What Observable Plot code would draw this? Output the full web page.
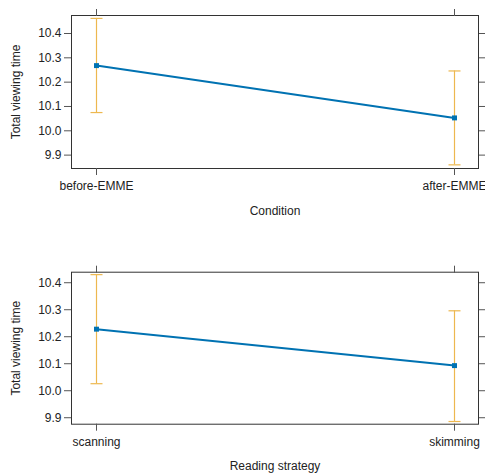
<!DOCTYPE html>
<html>
<head>
<meta charset="utf-8">
<script src="https://cdn.jsdelivr.net/npm/d3@7"></script>
<script src="https://cdn.jsdelivr.net/npm/@observablehq/plot@0.6"></script>
<style>
  body { margin: 0; background: #fff; }
  #chart { width: 485px; }
  #chart svg { display: block; overflow: visible; }
</style>
</head>
<body>
<div id="chart"></div>
<script>
// Panel 1: Condition
const conditionLevels = ["before-EMME", "after-EMME"];
const conditionFit = [10.268, 10.053];
const conditionLower = [10.075, 9.860];
const conditionUpper = [10.462, 10.246];

// Panel 2: Reading strategy
const strategyLevels = ["scanning", "skimming"];
const strategyFit = [10.228, 10.093];
const strategyLower = [10.026, 9.886];
const strategyUpper = [10.430, 10.296];

const yTicks = [9.9, 10.0, 10.1, 10.2, 10.3, 10.4];
const yLabel = "Total viewing time";

const BLUE = "#0072B2";
const ORANGE = "#EDB84F";
const INK = "#222";
const FONT = "Liberation Sans, Arial, sans-serif";

// horizontal cap symbol for error bars
const capSymbol = {draw(ctx) { ctx.moveTo(-6, 0); ctx.lineTo(6, 0); }};

function panel({levels, fit, lower, upper, xLabel, yDomain, marginTop, marginBottom, height}) {
  const data = levels.map((c, i) => ({c, fit: fit[i], lo: lower[i], hi: upper[i]}));
  return Plot.plot({
    width: 485,
    height,
    marginLeft: 71,
    marginRight: 7,
    marginTop,
    marginBottom,
    style: {fontFamily: FONT, fontSize: "12px", color: INK, background: "#fff", overflow: "visible"},
    x: {type: "point", domain: levels, padding: 0, insetLeft: 24.7, insetRight: 24.3},
    y: {domain: yDomain},
    marks: [
      Plot.frame({stroke: "#333", strokeWidth: 1}),
      Plot.axisY({anchor: "left", ticks: yTicks, tickFormat: d3.format(".1f"), tickSize: 7, tickPadding: 3,
        label: yLabel, labelAnchor: "center", labelArrow: "none", labelOffset: 60, stroke: "#555", fill: INK}),
      Plot.axisY({anchor: "right", ticks: yTicks, tickFormat: () => "", tickSize: 7, label: null, stroke: "#555"}),
      Plot.axisX({anchor: "bottom", tickSize: 7, tickPadding: 6, label: xLabel, labelAnchor: "center",
        labelArrow: "none", labelOffset: 46, stroke: "#555", fill: INK}),
      Plot.axisX({anchor: "top", tickSize: 7, tickFormat: () => "", label: null, stroke: "#555"}),
      Plot.ruleX(data, {x: "c", y1: "lo", y2: "hi", stroke: ORANGE, strokeWidth: 1.2}),
      Plot.dot(data, {x: "c", y: "lo", symbol: capSymbol, stroke: ORANGE, strokeWidth: 1.2, fill: "none"}),
      Plot.dot(data, {x: "c", y: "hi", symbol: capSymbol, stroke: ORANGE, strokeWidth: 1.2, fill: "none"}),
      Plot.line(data, {x: "c", y: "fit", stroke: BLUE, strokeWidth: 2}),
      Plot.dot(data, {x: "c", y: "fit", symbol: "square", r: 2.8, fill: BLUE, stroke: "none"})
    ]
  });
}

const chart = document.getElementById("chart");
chart.appendChild(panel({
  levels: conditionLevels, fit: conditionFit, lower: conditionLower, upper: conditionUpper,
  xLabel: "Condition", yDomain: [9.845, 10.474], marginTop: 15, marginBottom: 69, height: 237
}));
chart.appendChild(panel({
  levels: strategyLevels, fit: strategyFit, lower: strategyLower, upper: strategyUpper,
  xLabel: "Reading strategy", yDomain: [9.876, 10.439], marginTop: 34.7, marginBottom: 50.3, height: 237
}));
</script>
</body>
</html>
